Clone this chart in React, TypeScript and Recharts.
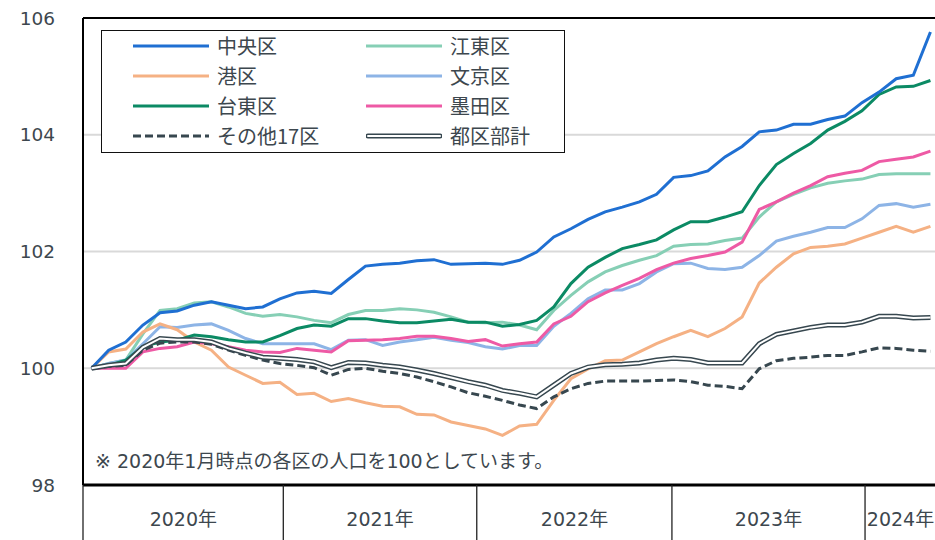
import { LineChart, Line, XAxis, YAxis, CartesianGrid, ReferenceLine, Legend } from "recharts"

// 2020年1月 = 100 とした各区の人口指数（月次）
const months = [
  "2020/01", "2020/02", "2020/03", "2020/04", "2020/05", "2020/06", "2020/07", "2020/08", "2020/09", "2020/10", "2020/11", "2020/12",
  "2021/01", "2021/02", "2021/03", "2021/04", "2021/05", "2021/06", "2021/07", "2021/08", "2021/09", "2021/10", "2021/11", "2021/12",
  "2022/01", "2022/02", "2022/03", "2022/04", "2022/05", "2022/06", "2022/07", "2022/08", "2022/09", "2022/10", "2022/11", "2022/12",
  "2023/01", "2023/02", "2023/03", "2023/04", "2023/05", "2023/06", "2023/07", "2023/08", "2023/09", "2023/10", "2023/11", "2023/12",
  "2024/01", "2024/02",
]

const chuo = [
  100.0, 100.31, 100.45, 100.74, 100.95, 100.98, 101.08, 101.14, 101.08, 101.02, 101.05, 101.19,
  101.29, 101.32, 101.28, 101.52, 101.75, 101.78, 101.8, 101.84, 101.86, 101.78, 101.79, 101.8,
  101.78, 101.85, 101.99, 102.25, 102.39, 102.55, 102.68, 102.76, 102.85, 102.98, 103.27, 103.3,
  103.38, 103.62, 103.8, 104.05, 104.08, 104.18, 104.18, 104.26, 104.32, 104.55, 104.73, 104.96,
  105.02, 105.76,
]
const koto = [
  100.0, 100.08, 100.14, 100.59, 100.99, 101.02, 101.12, 101.14, 101.05, 100.94, 100.89, 100.92,
  100.88, 100.82, 100.78, 100.92, 100.99, 100.99, 101.02, 101.0, 100.96, 100.88, 100.79, 100.78,
  100.79, 100.74, 100.66, 100.99, 101.25, 101.48, 101.65, 101.76, 101.85, 101.93, 102.09, 102.12,
  102.13, 102.19, 102.23, 102.59, 102.85, 102.98, 103.09, 103.17, 103.21, 103.24, 103.32, 103.33,
  103.33, 103.33,
]
const minato = [
  100.0, 100.28, 100.33, 100.62, 100.76, 100.66, 100.45, 100.31, 100.02, 99.88, 99.74, 99.76,
  99.55, 99.57, 99.43, 99.48, 99.41, 99.35, 99.34, 99.21, 99.2, 99.08, 99.02, 98.96,
  98.85, 99.01, 99.04, 99.45, 99.82, 99.99, 100.13, 100.14, 100.28, 100.42, 100.54, 100.65,
  100.54, 100.68, 100.88, 101.46, 101.73, 101.96, 102.07, 102.09, 102.13, 102.23, 102.33, 102.43,
  102.33, 102.43,
]
const bunkyo = [
  100.0, 100.08, 100.14, 100.42, 100.71, 100.7, 100.74, 100.76, 100.65, 100.51, 100.42, 100.42,
  100.42, 100.42, 100.32, 100.48, 100.49, 100.39, 100.45, 100.49, 100.53, 100.48, 100.44, 100.37,
  100.33, 100.39, 100.39, 100.72, 100.94, 101.19, 101.34, 101.34, 101.45, 101.65, 101.79, 101.8,
  101.71, 101.69, 101.73, 101.93, 102.18, 102.26, 102.33, 102.41, 102.41, 102.56, 102.79, 102.82,
  102.76, 102.81,
]
const taito = [
  100.0, 100.05, 100.14, 100.37, 100.45, 100.48, 100.57, 100.54, 100.49, 100.45, 100.45, 100.56,
  100.68, 100.74, 100.72, 100.85, 100.85, 100.81, 100.78, 100.78, 100.81, 100.84, 100.79, 100.79,
  100.72, 100.75, 100.82, 101.05, 101.45, 101.73, 101.9, 102.05, 102.12, 102.2, 102.37, 102.51,
  102.51, 102.59, 102.68, 103.13, 103.49, 103.68, 103.85, 104.08, 104.23, 104.41, 104.69, 104.82,
  104.83, 104.93,
]
const sumida = [
  100.0, 100.0, 100.0, 100.28, 100.34, 100.37, 100.45, 100.42, 100.37, 100.31, 100.28, 100.27,
  100.34, 100.31, 100.28, 100.47, 100.48, 100.49, 100.51, 100.55, 100.55, 100.51, 100.46, 100.49,
  100.38, 100.42, 100.45, 100.76, 100.89, 101.14, 101.29, 101.42, 101.54, 101.69, 101.8, 101.88,
  101.93, 101.99, 102.16, 102.72, 102.85, 103.0, 103.13, 103.28, 103.34, 103.39, 103.54, 103.58,
  103.62, 103.72,
]
const others17 = [
  100.0, 100.03, 100.05, 100.31, 100.43, 100.45, 100.45, 100.41, 100.31, 100.22, 100.14, 100.08,
  100.05, 100.01, 99.88, 99.98, 100.0, 99.95, 99.91, 99.85, 99.77, 99.68, 99.58, 99.52,
  99.45, 99.37, 99.31, 99.51, 99.65, 99.74, 99.78, 99.78, 99.78, 99.79, 99.8, 99.77,
  99.71, 99.69, 99.65, 99.99, 100.13, 100.17, 100.19, 100.22, 100.22, 100.28, 100.35, 100.34,
  100.31, 100.29,
]
const wards23 = [
  100.0, 100.05, 100.08, 100.36, 100.51, 100.49, 100.49, 100.45, 100.34, 100.26, 100.19, 100.17,
  100.15, 100.11, 100.01, 100.1, 100.09, 100.05, 100.02, 99.97, 99.91, 99.84, 99.77, 99.71,
  99.62, 99.57, 99.51, 99.71, 99.91, 100.02, 100.06, 100.07, 100.09, 100.14, 100.17, 100.15,
  100.09, 100.09, 100.09, 100.42, 100.58, 100.64, 100.7, 100.74, 100.74, 100.79, 100.89, 100.89,
  100.86, 100.87,
]

const yTicks = [98, 100, 102, 104, 106]

// 年の表（軸の下）：区切り位置とラベル位置（x 軸の値）
const yearEdges = [-0.5, 11.2, 22.5, 33.9, 45.18]
const yearLabels = ["2020年", "2021年", "2022年", "2023年", "2024年"]
const yearLabelPos = [5.36, 16.85, 28.21, 39.54, 47.25]

const FONT = "'DejaVu Sans', 'Noto Sans CJK JP', sans-serif"
const JP_FONT = "'Noto Sans CJK JP', 'DejaVu Sans', sans-serif"
const TEXT = "#3d474e"
const DARK = "#37474f"

const data = months.map((m, i) => ({
  idx: i,
  month: m,
  chuo: chuo[i],
  koto: koto[i],
  minato: minato[i],
  bunkyo: bunkyo[i],
  taito: taito[i],
  sumida: sumida[i],
  others17: others17[i],
  wards23: wards23[i],
}))

// 凡例の並び（2列、行ごと）
const legendItems = [
  { key: "chuo", name: "中央区", color: "#1f6fd2", kind: "solid" },
  { key: "koto", name: "江東区", color: "#86cfb5", kind: "solid" },
  { key: "minato", name: "港区", color: "#f5b184", kind: "solid" },
  { key: "bunkyo", name: "文京区", color: "#8db4e6", kind: "solid" },
  { key: "taito", name: "台東区", color: "#0b8a64", kind: "solid" },
  { key: "sumida", name: "墨田区", color: "#ee5aa5", kind: "solid" },
  { key: "others17", name: "その他17区", color: DARK, kind: "dashed" },
  { key: "wards23", name: "都区部計", color: DARK, kind: "double" },
]

const colorOf = (key: string) => legendItems.find((s) => s.key === key)!.color

function LegendIcon({ kind, color }: { kind: string; color: string }) {
  return (
    <svg width={76} height={10} style={{ display: "block" }}>
      {kind === "double" ? (
        <>
          <line x1={2} x2={74} y1={5} y2={5} stroke={color} strokeWidth={5} strokeLinecap="round" />
          <line x1={2} x2={74} y1={5} y2={5} stroke="#fff" strokeWidth={2} strokeLinecap="round" />
        </>
      ) : (
        <line
          x1={0}
          x2={76}
          y1={5}
          y2={5}
          stroke={color}
          strokeWidth={3}
          strokeDasharray={kind === "dashed" ? "8 4" : undefined}
        />
      )}
    </svg>
  )
}

function LegendBox() {
  return (
    <div
      style={{
        width: 464,
        height: 123,
        boxSizing: "border-box",
        border: "1.5px solid #111",
        background: "#fff",
        position: "relative",
      }}
    >
      {legendItems.map((s, i) => {
        const col = i % 2
        const row = Math.floor(i / 2)
        return (
          <div
            key={s.key}
            style={{
              position: "absolute",
              left: col ? 264 : 31,
              top: 2 + row * 30.1,
              height: 26,
              display: "flex",
              alignItems: "center",
            }}
          >
            <LegendIcon kind={s.kind} color={s.color} />
            <span style={{ marginLeft: 8, fontSize: 20, lineHeight: "26px", color: TEXT, fontFamily: JP_FONT }}>
              {s.name}
            </span>
          </div>
        )
      })}
    </div>
  )
}

function YearTick(props: any) {
  const { x, y, payload } = props
  const li = yearLabelPos.indexOf(payload.value)
  if (li >= 0) {
    return (
      <text x={x} y={y + 34} dy="0.36em" textAnchor="middle" fill={TEXT} fontSize={19} fontFamily={FONT}>
        {yearLabels[li]}
      </text>
    )
  }
  return <line x1={x} x2={x} y1={y} y2={y + 80} stroke="#222" strokeWidth={1.3} />
}

export default function App() {
  return (
    <div style={{ position: "absolute", left: 0, top: 0, width: 935, height: 540, overflow: "hidden", background: "#fff" }}>
      <LineChart width={945} height={560} data={data} margin={{ top: 18, right: 6, bottom: 0, left: 0 }}>
        <CartesianGrid vertical={false} stroke="#d9d9d9" strokeWidth={2} />
        <XAxis
          dataKey="idx"
          type="number"
          domain={[-0.5, 49.5]}
          ticks={[...yearEdges, ...yearLabelPos]}
          interval={0}
          height={75}
          tickSize={0}
          tickMargin={0}
          tickLine={false}
          axisLine={{ stroke: "#000", strokeWidth: 3 }}
          tick={<YearTick />}
        />
        <YAxis
          domain={[98, 106]}
          ticks={yTicks}
          width={83}
          tickSize={0}
          tickMargin={28}
          tickLine={false}
          axisLine={{ stroke: "#000", strokeWidth: 2 }}
          tick={{ fill: TEXT, fontSize: 18.5, fontFamily: FONT }}
        />
        <ReferenceLine y={106} stroke="#000" strokeWidth={2} />
        <Legend
          layout="horizontal"
          verticalAlign="middle"
          align="center"
          wrapperStyle={{ left: 101, top: 30, width: 464, height: 123 }}
          content={() => <LegendBox />}
        />
        <Line dataKey="koto" name="江東区" stroke={colorOf("koto")} strokeWidth={3} dot={false} isAnimationActive={false} />
        <Line dataKey="bunkyo" name="文京区" stroke={colorOf("bunkyo")} strokeWidth={3} dot={false} isAnimationActive={false} />
        <Line dataKey="minato" name="港区" stroke={colorOf("minato")} strokeWidth={3} dot={false} isAnimationActive={false} />
        <Line dataKey="sumida" name="墨田区" stroke={colorOf("sumida")} strokeWidth={3} dot={false} isAnimationActive={false} />
        <Line dataKey="taito" name="台東区" stroke={colorOf("taito")} strokeWidth={3} dot={false} isAnimationActive={false} />
        <Line dataKey="chuo" name="中央区" stroke={colorOf("chuo")} strokeWidth={3} dot={false} isAnimationActive={false} />
        <Line
          dataKey="others17"
          name="その他17区"
          stroke={DARK}
          strokeWidth={3}
          strokeDasharray="8 4"
          dot={false}
          isAnimationActive={false}
        />
        <Line dataKey="wards23" name="都区部計" stroke={DARK} strokeWidth={5} dot={false} isAnimationActive={false} />
        <Line
          dataKey="wards23"
          name="都区部計（内側）"
          legendType="none"
          stroke="#fff"
          strokeWidth={2}
          dot={false}
          isAnimationActive={false}
        />
      </LineChart>
      <div
        style={{
          position: "absolute",
          left: 95,
          top: 449,
          fontSize: 19,
          lineHeight: "24px",
          color: TEXT,
          fontFamily: FONT,
          whiteSpace: "nowrap",
        }}
      >
        ※ 2020年1月時点の各区の人口を100としています。
      </div>
    </div>
  )
}
